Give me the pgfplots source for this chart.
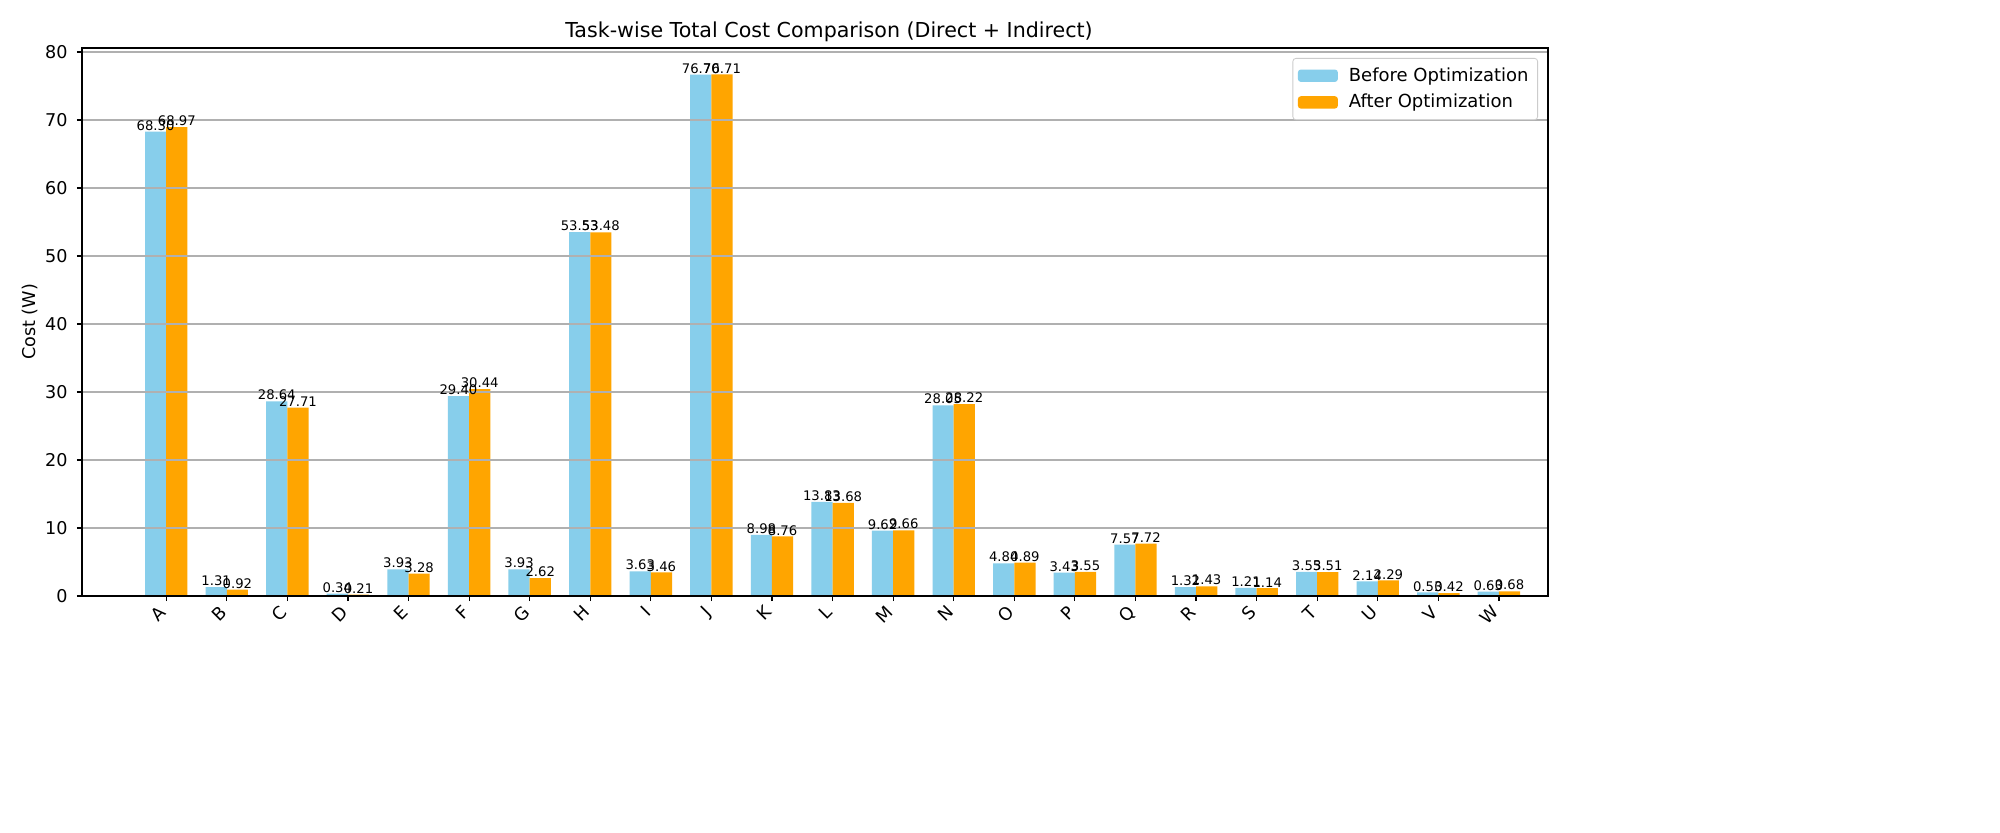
\documentclass[border=0pt]{standalone}
\usepackage{pgfplots}
\pgfplotsset{compat=1.18}
\usepackage{pgfplotstable}
\usepackage{fontspec}
\setmainfont{DejaVu Sans}
\definecolor{skyb}{HTML}{87CEEB}
\definecolor{orng}{HTML}{FFA500}
\definecolor{gridc}{HTML}{B0B0B0}
\pgfplotstableread{
x before after
0 68.30 68.97
1 1.31 0.92
2 28.64 27.71
3 0.34 0.21
4 3.93 3.28
5 29.40 30.44
6 3.93 2.62
7 53.53 53.48
8 3.63 3.46
9 76.70 76.71
10 8.98 8.76
11 13.83 13.68
12 9.62 9.66
13 28.05 28.22
14 4.80 4.89
15 3.43 3.55
16 7.57 7.72
17 1.32 1.43
18 1.21 1.14
19 3.55 3.51
20 2.14 2.29
21 0.53 0.42
22 0.63 0.68
}\datatable
\begin{document}
\begin{tikzpicture}
\path[use as bounding box, fill=white] (-41pt,-118.5pt) rectangle (959pt,298pt);
\begin{axis}[
  at={(0pt,0pt)}, anchor=south west,
  scale only axis, width=733pt, height=274pt,
  xmin=-1.39, xmax=22.81, ymin=0, ymax=80.6,
  ybar=0pt, bar width=0.35,
  xtick={0,...,22},
  xticklabels={A,B,C,D,E,F,G,H,I,J,K,L,M,N,O,P,Q,R,S,T,U,V,W},
  ytick={0,10,...,80},
  xtick pos=bottom, ytick pos=left,
  tick align=outside,
  major tick length=2.55pt,
  tick style={black, line width=0.58pt},
  axis line style={black, line width=0.58pt},
  ymajorgrids, grid style={gridc, line width=0.58pt},
  axis on top,
  /pgf/number format/assume math mode=true,
  ticklabel style={font=\fontsize{8.8}{10.5}\selectfont},
  yticklabel style={inner sep=2pt, xshift=-2.5pt},
  xticklabel style={rotate=45, anchor=north east, inner sep=1pt, xshift=-2.83pt, yshift=2.83pt},
  ylabel={Cost (W)},
  ylabel style={font=\fontsize{8.8}{10.5}\selectfont, at={(axis description cs:0,0.5)}, anchor=center, yshift=26pt},
  title={Task-wise Total Cost Comparison (Direct + Indirect)},
  title style={font=\fontsize{10.3}{12}\selectfont, at={(axis description cs:0.5,1)}, anchor=south, yshift=-6.6pt, xshift=7pt},
  legend style={at={(1,1)}, xshift=-5pt, yshift=-5pt, anchor=north east,
    draw=gray!40, rounded corners=1.5pt, font=\fontsize{9}{10.5}\selectfont,
    row sep=1pt, inner sep=2.5pt},
  legend cell align=left,
  legend image code/.code={\fill[#1] (0pt,-3.1pt) rectangle (20pt,3.1pt); \path (23.5pt,0pt);},
  nodes near coords,
  nodes near coords style={font=\fontsize{6.6}{7.5}\selectfont, anchor=south, inner sep=0.4pt,
    /pgf/number format/.cd, fixed, fixed zerofill, precision=2, assume math mode=true},
]
\addplot[fill=skyb, draw=none] table[x=x, y=before] {\datatable};
\addlegendentry{Before Optimization}
\addplot[fill=orng, draw=none] table[x=x, y=after] {\datatable};
\addlegendentry{After Optimization}
\end{axis}
\end{tikzpicture}
\end{document}
